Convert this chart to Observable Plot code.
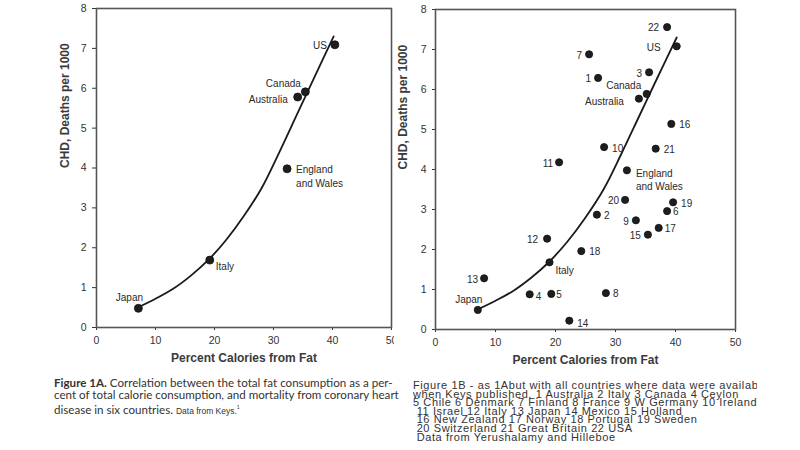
<!DOCTYPE html>
<html><head><meta charset="utf-8">
<script src="https://cdn.jsdelivr.net/npm/d3@7"></script>
<script src="https://cdn.jsdelivr.net/npm/@observablehq/plot@0.6"></script>
<style>
body{margin:0;background:#fff;width:800px;height:450px;position:relative;overflow:hidden;}
#left{position:absolute;left:0;top:0;width:394px;height:372px;overflow:hidden;}
#right{position:absolute;left:393px;top:0;width:362px;height:372px;}
#capA{position:absolute;left:54px;top:377px;width:350px;white-space:nowrap;font-family:Lato,"Open Sans",sans-serif;font-size:11.6px;line-height:12px;color:#333;}
#capA .small{font-family:"Liberation Sans",Arial,sans-serif;font-size:8.5px;}
#capB{position:absolute;left:413px;top:381px;width:344px;clip-path:inset(-20px 0 -20px 0);white-space:pre;font-family:"Liberation Sans",Arial,sans-serif;font-size:11px;letter-spacing:0.6px;line-height:8.6px;color:#333;}
</style></head>
<body>
<div id="left"></div>
<div id="right"></div>
<div id="capA"></div>
<div id="capB"></div>
<script>
// ---- Data ----
const xTicks = [0, 10, 20, 30, 40, 50];
const yTicks = [0, 1, 2, 3, 4, 5, 6, 7, 8];
const xTitle = "Percent Calories from Fat";
const yTitle = "CHD, Deaths per 1000";

// Figure 1A: six countries
const leftCountries = ["Japan", "Italy", "England and Wales", "Australia", "Canada", "US"];
const leftFat = [7.1, 19.2, 32.3, 34.1, 35.4, 40.4];
const leftCHD = [0.48, 1.69, 3.98, 5.78, 5.91, 7.09];

// Figure 1B: 22 numbered countries plus Keys' six
const rightKeys = ["1","2","3","4","5","6","7","8","9","10","11","12","13","14","15","16","17","18","19","20","21","22",
  "Japan","Italy","England and Wales","Australia","Canada","US"];
const rightFat = [27.1, 26.9, 35.6, 15.7, 19.3, 38.6, 25.6, 28.4, 33.4, 28.1, 20.6, 18.6, 8.1, 22.3, 35.4, 39.3, 37.2, 24.3, 39.6, 31.6, 36.7, 38.6,
  7.05, 19.0, 31.9, 33.9, 35.2, 40.2];
const rightCHD = [6.29, 2.87, 6.43, 0.88, 0.89, 2.96, 6.88, 0.91, 2.73, 4.56, 4.18, 2.27, 1.28, 0.22, 2.37, 5.14, 2.54, 1.96, 3.18, 3.24, 4.52, 7.56,
  0.49, 1.68, 3.98, 5.77, 5.89, 7.08];

// Hand-drawn fitted curve
const curveFat = [7, 10, 13, 16, 19, 22, 25, 28, 31, 34, 37, 40.2];
const curveCHD = [0.5, 0.72, 0.97, 1.3, 1.7, 2.2, 2.8, 3.5, 4.4, 5.35, 6.3, 7.3];

const captionA = [
  ["Figure 1A.", " Correlation between the total fat consumption as a per-"],
  ["", "cent of total calorie consumption, and mortality from coronary heart"],
  ["", "disease in six countries.  "]
];
const captionANote = "Data from Keys.";
const captionB = [
  "Figure 1B - as 1Abut with all countries where data were available",
  "when Keys published. 1 Australia 2 Italy 3 Canada 4 Ceylon",
  "5 Chile 6 Denmark 7 Finland 8 France 9 W Germany 10 Ireland",
  " 11 Israel 12 Italy 13 Japan 14 Mexico 15 Holland",
  " 16 New Zealand 17 Norway 18 Portugal 19 Sweden",
  " 20 Switzerland 21 Great Britain 22 USA",
  " Data from Yerushalamy and Hilleboe"
];

// ---- Rendering ----
const curve = curveFat.map((x, i) => ({x, y: curveCHD[i]}));
const leftData = leftCountries.map((k, i) => ({k, x: leftFat[i], y: leftCHD[i]}));
const rightData = rightKeys.map((k, i) => ({k, x: rightFat[i], y: rightCHD[i]}));

// label placement: [textAnchor, dx, dy]
const leftPlace = {
  "US": ["end", -8, 0], "Canada": ["middle", -22, -9], "Australia": ["end", -10, 2],
  "England and Wales": ["start", 9, 7], "Italy": ["start", 6, 6], "Japan": ["middle", -9, -12]
};
const rightPlace = {
  "22": ["end", -8, 0], "US": ["end", -16, 0], "7": ["end", -7, 0], "1": ["end", -7, 0], "3": ["end", -7, 0],
  "Canada": ["middle", -23, -9], "Australia": ["end", -15, 2], "16": ["start", 8, 0], "10": ["start", 8, 1],
  "21": ["start", 8, 0], "11": ["end", -6, 0], "England and Wales": ["start", 9, 9], "20": ["end", -6, 0],
  "19": ["start", 8, 0], "6": ["start", 6, 0], "2": ["start", 7, 0], "9": ["end", -7, 0], "17": ["start", 6, 0],
  "15": ["end", -7, 0], "12": ["end", -9, 0], "18": ["start", 8, 0], "Italy": ["start", 6, 7], "13": ["end", -6, 0],
  "4": ["start", 6, 1], "5": ["start", 5, 0], "8": ["start", 7, 0], "Japan": ["middle", -9, -11], "14": ["start", 8, 2]
};

function labels(data, place) {
  return data.map(d => {
    const [a, dx, dy] = place[d.k];
    return Plot.text([d], {x: "x", y: "y", text: d => d.k.replace(" and ", "\nand "),
      textAnchor: a, dx, dy, fontSize: 10, fill: "#2a2a2a", lineHeight: 1.35});
  });
}

function chart(opts) {
  return Plot.plot({
    width: opts.width, height: 372,
    marginLeft: opts.ml, marginRight: opts.mr, marginTop: opts.mt, marginBottom: 372 - opts.bottom,
    style: {fontFamily: "'Liberation Sans', Arial, sans-serif", fontSize: "10.5px", color: "#333", background: "transparent"},
    x: {domain: [0, 50], ticks: xTicks, tickSize: 3, tickPadding: 6, label: null, tickFormat: d => String(d)},
    y: {domain: [0, 8], ticks: yTicks, tickSize: opts.yts, tickPadding: 6, label: null},
    marks: [
      Plot.frame({stroke: "#555", strokeWidth: 1.6}),
      Plot.line(curve, {x: "x", y: "y", curve: "catmull-rom", stroke: "#1a1a1a", strokeWidth: 1.8}),
      Plot.dot(opts.data, {x: "x", y: "y", r: opts.r, fill: "#1e1e1e", stroke: "#111", strokeWidth: 0.8}),
      ...labels(opts.data, opts.place),
      Plot.text([xTitle], {frameAnchor: "bottom", dy: 34, fontSize: 12, fontWeight: "bold", fill: "#3a3a3a"}),
      Plot.text([yTitle], {frameAnchor: "left", dx: opts.ydx, rotate: -90, fontSize: 12, fontWeight: "bold", fill: "#3a3a3a"})
    ]
  });
}

document.getElementById("left").append(chart({width: 394, ml: 96, mr: 3, mt: 8, bottom: 327, yts: 4,
  data: leftData, place: leftPlace, r: 4, ydx: -31}));
document.getElementById("right").append(chart({width: 362, ml: 42, mr: 20, mt: 9, bottom: 329, yts: 3,
  data: rightData, place: rightPlace, r: 3.6, ydx: -32}));

const capA = document.getElementById("capA");
captionA.forEach(([b, t], i) => {
  const line = document.createElement("div");
  if (b) { const s = document.createElement("b"); s.textContent = b; line.append(s); }
  line.append(t);
  if (i === captionA.length - 1) {
    const s = document.createElement("span"); s.className = "small"; s.textContent = captionANote;
    const sup = document.createElement("sup"); sup.textContent = "1"; sup.style.fontSize = "5px";
    line.append(s, sup);
  }
  capA.append(line);
});
document.getElementById("capB").textContent = captionB.join("\n");
</script>
</body></html>
